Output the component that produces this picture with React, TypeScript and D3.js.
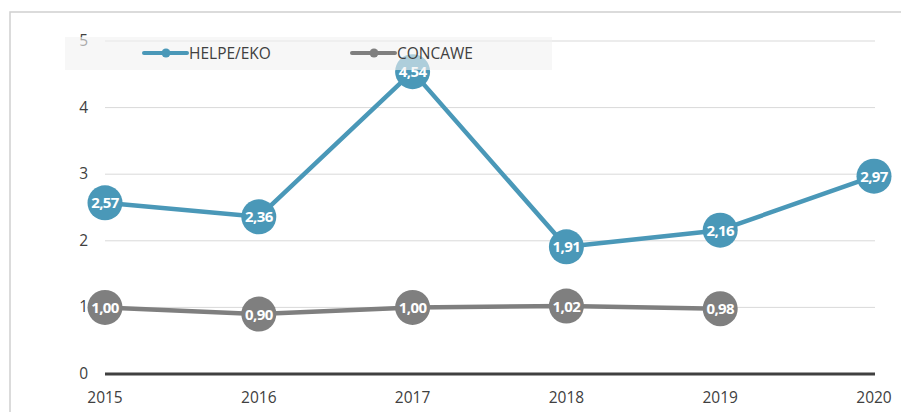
import React, { useRef, useEffect } from 'react';
import * as d3 from 'd3';

const years = ['2015', '2016', '2017', '2018', '2019', '2020'];
const helpe = [2.57, 2.36, 4.54, 1.91, 2.16, 2.97];
const concawe = [1.0, 0.9, 1.0, 1.02, 0.98];
const yTicks = [0, 1, 2, 3, 4, 5];

const BLUE = '#4a98b8';
const GREY = '#7f7f7f';
const FONT = '"Open Sans", "Noto Sans", sans-serif';

const App = () => {
  const svgRef = useRef<SVGSVGElement>(null);

  useEffect(() => {
    const svg = d3.select(svgRef.current);
    svg.selectAll('*').remove();

    const x = d3.scalePoint().domain(years).range([105, 874]);
    const y = d3.scaleLinear().domain([0, 5]).range([374, 41]);
    const fmt = (v: number) => v.toFixed(2).replace('.', ',');

    // outer frame
    svg.append('rect')
      .attr('x', 10).attr('y', 12).attr('width', 1000).attr('height', 500)
      .attr('fill', 'white').attr('stroke', '#d0d0d0').attr('stroke-width', 1.5);

    // gridlines
    svg.append('g').selectAll('line')
      .data(yTicks.filter(d => d > 0))
      .enter().append('line')
      .attr('x1', 105).attr('x2', 875)
      .attr('y1', d => y(d)).attr('y2', d => y(d))
      .attr('stroke', '#d9d9d9').attr('stroke-width', 1);

    svg.append('line')
      .attr('x1', 105).attr('x2', 875)
      .attr('y1', y(0)).attr('y2', y(0))
      .attr('stroke', '#404040').attr('stroke-width', 3);

    // y labels
    svg.append('g').selectAll('text')
      .data(yTicks)
      .enter().append('text')
      .attr('x', 88).attr('y', d => y(d) + 5)
      .attr('text-anchor', 'end')
      .attr('font-family', FONT).attr('font-size', 15.5).attr('fill', '#404040')
      .text(d => d);

    // x labels
    svg.append('g').selectAll('text')
      .data(years)
      .enter().append('text')
      .attr('x', d => x(d)!).attr('y', 403)
      .attr('text-anchor', 'middle')
      .attr('font-family', FONT).attr('font-size', 15.5).attr('fill', '#404040')
      .text(d => d);

    const line = d3.line<number>()
      .x((_, i) => x(years[i])!)
      .y(d => y(d));

    const drawSeries = (vals: number[], color: string) => {
      svg.append('path')
        .datum(vals)
        .attr('d', line)
        .attr('fill', 'none').attr('stroke', color).attr('stroke-width', 4.5)
        .attr('stroke-linejoin', 'round');
      const g = svg.append('g').selectAll('g')
        .data(vals)
        .enter().append('g')
        .attr('transform', (d, i) => `translate(${x(years[i])},${y(d)})`);
      g.append('circle').attr('r', 17.5).attr('fill', color);
      g.append('text')
        .attr('y', 5.5).attr('text-anchor', 'middle')
        .attr('font-family', FONT).attr('font-size', 15).attr('font-weight', 'bold')
        .attr('letter-spacing', -0.6)
        .attr('fill', 'white')
        .text(d => fmt(d));
    };

    drawSeries(concawe, GREY);
    drawSeries(helpe, BLUE);

    // legend
    svg.append('rect')
      .attr('x', 65).attr('y', 37).attr('width', 487).attr('height', 33)
      .attr('fill', '#f2f2f2').attr('fill-opacity', 0.6);

    const legend = [
      { name: 'HELPE/EKO', color: BLUE, x0: 144 },
      { name: 'CONCAWE', color: GREY, x0: 352 },
    ];
    const lg = svg.append('g').selectAll('g')
      .data(legend)
      .enter().append('g')
      .attr('transform', d => `translate(${d.x0},53)`);
    lg.append('line')
      .attr('x1', 0).attr('x2', 43)
      .attr('stroke', d => d.color).attr('stroke-width', 4).attr('stroke-linecap', 'round');
    lg.append('circle').attr('cx', 22).attr('r', 4.5).attr('fill', d => d.color);
    lg.append('text')
      .attr('x', 45).attr('y', 5.5)
      .attr('font-family', FONT).attr('font-size', 15.5).attr('fill', '#404040')
      .text(d => d.name);
  }, []);

  return (
    <svg ref={svgRef} width={901} height={412}
      style={{ position: 'absolute', left: 0, top: 0, background: 'white' }} />
  );
};

export default App;
